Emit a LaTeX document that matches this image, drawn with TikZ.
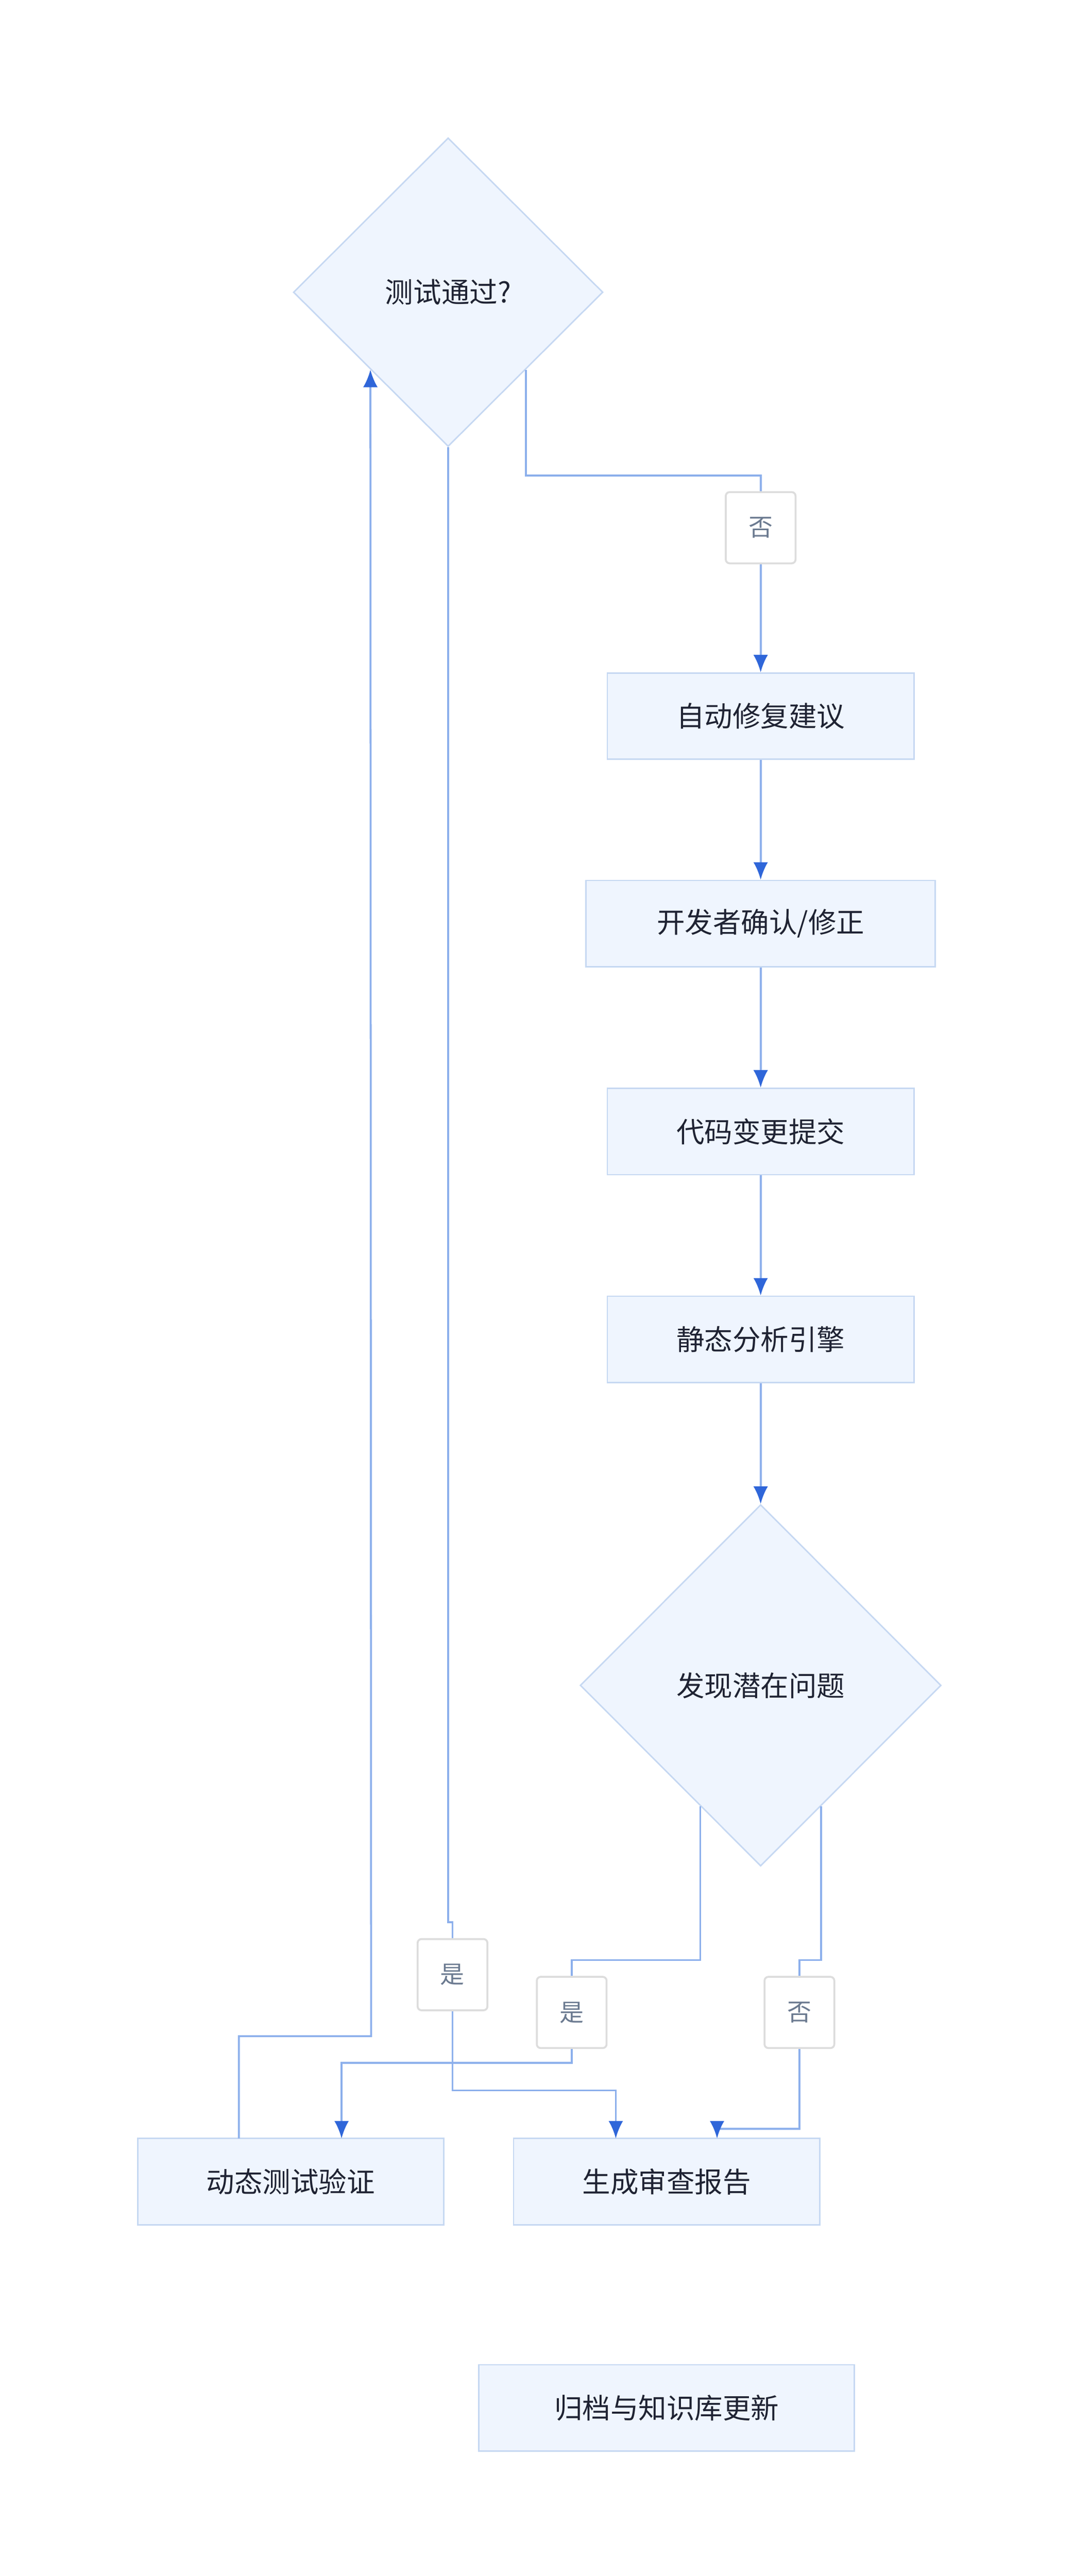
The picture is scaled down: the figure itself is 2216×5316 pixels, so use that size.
\documentclass[tikz,border=0pt]{standalone}
\usepackage{fontspec}
\newfontfamily\cjk{Noto Sans CJK SC}
\usetikzlibrary{shapes.geometric,arrows.meta,calc}
\definecolor{nodefill}{HTML}{EFF5FE}
\definecolor{nodeline}{HTML}{C6D8F2}
\definecolor{linec}{HTML}{8DB0EC}
\definecolor{arrowc}{HTML}{2F66D9}
\definecolor{textc}{HTML}{1F2333}
\definecolor{labtext}{HTML}{6B7A90}
\definecolor{labline}{HTML}{DDDDDD}
\tikzset{
  box/.style={draw=nodeline,fill=nodefill,line width=3pt,minimum height=178pt,text=textc,font=\cjk\fontsize{58}{70}\selectfont,inner sep=0pt},
  dia/.style={diamond,draw=nodeline,fill=nodefill,line width=3pt,text=textc,font=\cjk\fontsize{58}{70}\selectfont,inner sep=0pt},
  lab/.style={draw=labline,fill=white,rounded corners=8pt,line width=4pt,minimum width=144pt,minimum height=147pt,text=labtext,font=\cjk\fontsize{50}{60}\selectfont,inner sep=0pt},
  conn/.style={draw=linec,line width=4pt},
  arr/.style={conn,-{Latex[length=36pt,width=30pt,color=arrowc]}}
}
\begin{document}
\begin{tikzpicture}[x=1pt,y=-1pt]
\useasboundingbox (0,0) rectangle (2216,5316);
\node[dia,minimum width=639pt,minimum height=637pt] (d1) at (925,603) {测试通过?};
\node[box,minimum width=633pt] (b1) at (1570,1478) {自动修复建议};
\node[box,minimum width=721pt] (b2) at (1570,1906) {开发者确认/修正};
\node[box,minimum width=633pt] (b3) at (1570,2335) {代码变更提交};
\node[box,minimum width=633pt] (b4) at (1570,2764) {静态分析引擎};
\node[dia,minimum width=745pt,minimum height=746pt] (d2) at (1570,3478) {发现潜在问题};
\node[box,minimum width=631pt] (b5) at (600,4502) {动态测试验证};
\node[box,minimum width=632pt] (b6) at (1376,4502) {生成审查报告};
\node[box,minimum width=775pt] (b7) at (1376,4969) {归档与知识库更新};
% connectors
\coordinate (d2sw) at ($(d2.south)!0.333!(d2.west)$);
\coordinate (d2se) at ($(d2.south)!0.333!(d2.east)$);
\coordinate (l1) at (1570,1089);
\coordinate (l2) at (934,4075);
\coordinate (l3) at (1180,4153);
\coordinate (l4) at (1650,4153);
\draw[arr] (d1.south east) |- (1570,981) -- (l1) -- (b1.north);
\draw[arr] (b1) -- (b2);
\draw[arr] (b2) -- (b3);
\draw[arr] (b3) -- (b4);
\draw[arr] (b4) -- (d2.north);
\draw[conn] (d1.south) -- (925,3967) -- (934,3967) -- (l2);
\draw[arr] (l2) |- (1271,4314) -- (1271,4413);
\draw[conn] (d2sw) |- (1180,4045) -- (l3);
\draw[arr] (l3) |- (705,4257) -- (705,4413);
\draw[conn] (d2se) |- (1650,4045) -- (l4);
\draw[arr] (l4) |- (1480,4393) -- (1480,4413);
\draw[arr] (493,4413) |- (766,4202) -- (d1.south west);
\node[lab] at (l1) {否};
\node[lab] at (l2) {是};
\node[lab] at (l3) {是};
\node[lab] at (l4) {否};
\end{tikzpicture}
\end{document}
